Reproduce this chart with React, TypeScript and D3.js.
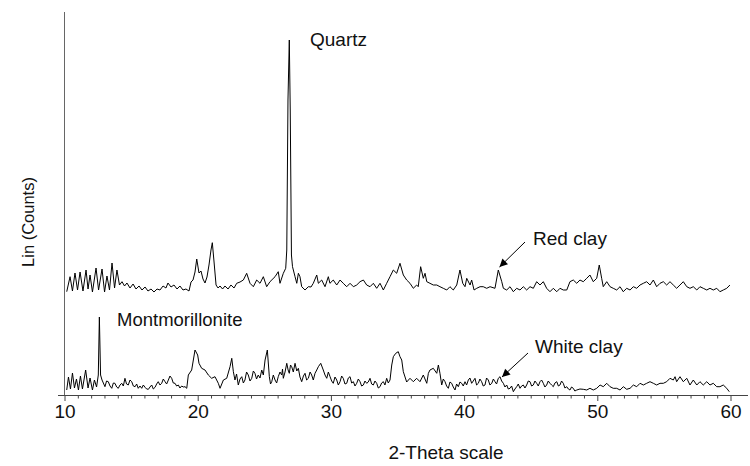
import React from "react";
import * as d3 from "d3";

// 2-theta (deg) / intensity pairs
const redClay: [number, number][] = [
  [10.13, 33], [10.38, 183], [10.56, 40], [10.75, 220], [10.94, 50], [11.13, 230], [11.35, 40],
  [11.58, 250], [11.73, 60], [11.88, 200], [12.06, 30], [12.33, 270], [12.52, 50], [12.78, 260],
  [12.97, 30], [13.15, 190], [13.34, 50], [13.53, 320], [13.72, 70], [13.9, 250], [14.09, 100],
  [14.28, 133], [14.47, 90], [14.65, 120], [14.88, 70], [15.11, 110], [15.33, 60], [15.56, 90],
  [15.78, 50], [16.01, 80], [16.23, 40], [16.46, 60], [16.68, 30], [16.91, 60], [17.13, 50],
  [17.36, 90], [17.58, 70], [17.73, 120], [17.96, 80], [18.18, 100], [18.41, 60], [18.63, 90],
  [18.86, 50], [19.08, 60], [19.31, 40], [19.46, 130], [19.61, 150], [19.76, 230], [19.89, 360],
  [20.06, 220], [20.21, 240], [20.36, 160], [20.51, 120], [20.66, 180], [20.81, 300], [20.96, 450],
  [21.06, 523], [21.19, 330], [21.34, 100], [21.49, 70], [21.64, 90], [21.83, 60], [22.01, 90],
  [22.24, 60], [22.46, 100], [22.69, 70], [22.89, 117], [23.14, 130], [23.39, 150], [23.64, 217],
  [23.89, 117], [24.14, 83], [24.39, 150], [24.64, 117], [24.89, 183], [25.14, 83], [25.39, 133],
  [25.77, 183], [26.01, 233], [26.14, 117], [26.39, 217], [26.57, 267], [26.65, 450], [26.74, 1950],
  [26.84, 2550], [26.91, 1850], [27.0, 400], [27.08, 283], [27.27, 183], [27.4, 117], [27.52, 217],
  [27.64, 183], [27.77, 83], [28.02, 50], [28.27, 83], [28.47, 80], [28.64, 117], [28.9, 200],
  [29.02, 117], [29.27, 150], [29.52, 83], [29.77, 183], [29.89, 117], [30.14, 150], [30.4, 100],
  [30.65, 150], [30.89, 117], [31.15, 83], [31.4, 117], [31.65, 83], [31.9, 100], [32.15, 133],
  [32.4, 150], [32.65, 100], [32.9, 83], [33.15, 117], [33.4, 67], [33.65, 117], [33.9, 50],
  [34.15, 117], [34.4, 183], [34.65, 250], [34.9, 217], [35.15, 317], [35.4, 200], [35.65, 150],
  [35.9, 117], [36.15, 67], [36.4, 100], [36.52, 83], [36.7, 283], [36.9, 167], [37.03, 217],
  [37.16, 133], [37.4, 117], [37.65, 100], [37.91, 100], [38.15, 83], [38.4, 67], [38.66, 50],
  [38.9, 83], [39.15, 50], [39.41, 100], [39.65, 250], [39.86, 117], [40.03, 83], [40.16, 167],
  [40.41, 100], [40.53, 150], [40.71, 50], [40.91, 67], [41.16, 83], [41.4, 83], [41.66, 67],
  [41.91, 83], [42.28, 67], [42.53, 250], [42.79, 133], [42.91, 67], [43.16, 50], [43.41, 83],
  [43.66, 33], [43.91, 67], [44.16, 50], [44.41, 83], [44.66, 50], [44.91, 83], [45.16, 67],
  [45.41, 133], [45.66, 100], [45.91, 133], [46.16, 67], [46.41, 33], [46.66, 67], [46.92, 33],
  [47.16, 67], [47.41, 50], [47.67, 50], [47.91, 133], [48.16, 150], [48.42, 117], [48.66, 150],
  [48.91, 133], [49.17, 167], [49.41, 200], [49.66, 133], [49.92, 167], [50.11, 300], [50.29, 167],
  [50.41, 83], [50.67, 133], [50.92, 83], [51.16, 67], [51.42, 50], [51.67, 83], [51.91, 33],
  [52.17, 67], [52.42, 50], [52.67, 83], [52.92, 67], [53.17, 100], [53.42, 117], [53.67, 133],
  [53.92, 100], [54.17, 150], [54.42, 83], [54.67, 117], [54.92, 133], [55.17, 100], [55.42, 133],
  [55.67, 100], [55.92, 67], [56.17, 100], [56.42, 133], [56.68, 83], [56.92, 67], [57.17, 83],
  [57.43, 50], [57.67, 83], [57.92, 67], [58.18, 50], [58.42, 67], [58.67, 50], [58.93, 67],
  [59.17, 33], [59.42, 50], [59.68, 67], [59.92, 100],
];

const whiteClay: [number, number][] = [
  [10.13, 50], [10.26, 180], [10.41, 60], [10.56, 220], [10.71, 70], [10.86, 160], [11.01, 50],
  [11.16, 190], [11.31, 60], [11.55, 250], [11.73, 70], [11.88, 170], [12.06, 50], [12.21, 150],
  [12.37, 80], [12.5, 200], [12.58, 780], [12.67, 200], [12.78, 150], [13.0, 83], [13.12, 140],
  [13.25, 133], [13.38, 90], [13.51, 67], [13.63, 120], [13.75, 117], [13.88, 80], [14.0, 67],
  [14.13, 100], [14.26, 117], [14.38, 90], [14.5, 167], [14.62, 110], [14.75, 100], [14.88, 150],
  [15.01, 133], [15.13, 90], [15.26, 83], [15.38, 110], [15.5, 67], [15.63, 90], [15.76, 67],
  [15.88, 100], [16.01, 77], [16.13, 60], [16.26, 57], [16.38, 80], [16.51, 100], [16.63, 60],
  [16.76, 77], [16.88, 110], [17.0, 133], [17.13, 100], [17.26, 117], [17.38, 160], [17.51, 133],
  [17.63, 110], [17.76, 150], [17.88, 190], [18.01, 167], [18.13, 120], [18.26, 117], [18.38, 90],
  [18.51, 100], [18.63, 70], [18.76, 90], [18.88, 80], [19.01, 83], [19.14, 67], [19.26, 200],
  [19.51, 250], [19.76, 450], [19.96, 400], [20.06, 317], [20.26, 267], [20.51, 250], [20.76, 200],
  [21.01, 167], [21.26, 183], [21.51, 117], [21.64, 67], [21.89, 150], [22.14, 167], [22.39, 283],
  [22.52, 367], [22.64, 233], [22.76, 150], [22.88, 210], [23.01, 100], [23.14, 160], [23.27, 183],
  [23.39, 120], [23.51, 150], [23.63, 230], [23.76, 200], [23.89, 140], [24.02, 167], [24.14, 240],
  [24.26, 217], [24.38, 160], [24.51, 200], [24.64, 170], [24.77, 250], [24.89, 200], [25.02, 350],
  [25.19, 450], [25.34, 183], [25.43, 110], [25.52, 133], [25.64, 200], [25.77, 150], [25.89, 120],
  [26.01, 183], [26.14, 230], [26.27, 200], [26.33, 260], [26.39, 167], [26.52, 230], [26.65, 317],
  [26.75, 250], [26.84, 217], [26.93, 300], [27.02, 283], [27.14, 230], [27.27, 317], [27.4, 240],
  [27.52, 267], [27.64, 180], [27.77, 133], [27.9, 190], [28.02, 217], [28.14, 150], [28.27, 167],
  [28.4, 230], [28.52, 200], [28.64, 150], [28.77, 217], [28.9, 250], [29.02, 283], [29.2, 317],
  [29.39, 250], [29.52, 200], [29.65, 167], [29.77, 230], [29.9, 183], [30.02, 140], [30.14, 117],
  [30.27, 180], [30.4, 150], [30.52, 100], [30.65, 133], [30.77, 190], [30.89, 167], [31.02, 110],
  [31.15, 117], [31.27, 170], [31.4, 183], [31.52, 120], [31.65, 133], [31.77, 90], [31.9, 117],
  [32.02, 160], [32.15, 133], [32.27, 90], [32.4, 100], [32.52, 140], [32.65, 117], [32.77, 130],
  [32.9, 167], [33.02, 110], [33.15, 100], [33.27, 140], [33.4, 117], [33.52, 70], [33.65, 83],
  [33.77, 120], [33.9, 133], [34.02, 100], [34.15, 167], [34.27, 120], [34.4, 150], [34.53, 300],
  [34.65, 383], [34.83, 417], [35.02, 433], [35.15, 383], [35.28, 350], [35.4, 233], [35.65, 130],
  [35.9, 167], [36.15, 133], [36.4, 167], [36.65, 133], [36.9, 200], [37.16, 117], [37.28, 217],
  [37.4, 250], [37.65, 267], [37.91, 217], [38.03, 300], [38.15, 217], [38.28, 100], [38.4, 160],
  [38.53, 133], [38.65, 90], [38.78, 67], [38.9, 130], [39.03, 117], [39.15, 80], [39.28, 50],
  [39.4, 110], [39.53, 83], [39.65, 130], [39.78, 117], [39.9, 90], [40.03, 133], [40.15, 100],
  [40.28, 150], [40.4, 170], [40.53, 117], [40.65, 140], [40.78, 167], [40.9, 100], [41.03, 117],
  [41.15, 160], [41.28, 133], [41.4, 90], [41.53, 100], [41.65, 170], [41.78, 150], [41.9, 100],
  [42.04, 117], [42.16, 160], [42.28, 133], [42.4, 110], [42.53, 167], [42.66, 183], [42.78, 140],
  [42.91, 117], [43.03, 80], [43.16, 100], [43.28, 60], [43.41, 67], [43.53, 90], [43.66, 33],
  [43.78, 60], [43.91, 83], [44.03, 110], [44.16, 67], [44.28, 90], [44.41, 100], [44.53, 70],
  [44.66, 100], [44.78, 140], [44.91, 133], [45.03, 90], [45.16, 100], [45.28, 140], [45.41, 117],
  [45.53, 90], [45.66, 133], [45.78, 150], [45.91, 117], [46.03, 80], [46.16, 100], [46.28, 140],
  [46.41, 117], [46.53, 100], [46.66, 83], [46.78, 120], [46.92, 133], [47.04, 90], [47.16, 100],
  [47.28, 140], [47.41, 117], [47.53, 70], [47.67, 83], [47.79, 60], [47.91, 50], [48.03, 80],
  [48.16, 67], [48.28, 40], [48.42, 50], [48.66, 60], [48.91, 57], [49.17, 50], [49.41, 67],
  [49.66, 50], [49.92, 67], [50.17, 100], [50.41, 83], [50.67, 117], [50.92, 83], [51.16, 67],
  [51.42, 67], [51.67, 50], [51.92, 83], [52.17, 57], [52.42, 67], [52.67, 100], [52.92, 83],
  [53.17, 117], [53.42, 100], [53.67, 117], [53.92, 133], [54.17, 117], [54.42, 100], [54.67, 117],
  [54.92, 117], [55.17, 133], [55.42, 167], [55.67, 150], [55.8, 183], [55.92, 133], [56.17, 183],
  [56.42, 133], [56.68, 167], [56.92, 100], [57.17, 150], [57.43, 100], [57.67, 133], [57.92, 100],
  [58.18, 133], [58.42, 100], [58.67, 117], [58.93, 83], [59.17, 83], [59.42, 100], [59.68, 67],
  [59.87, 33],
];

const RED_OFFSET = 1000; // vertical offset of the red clay scan
const xTicks = [10, 20, 30, 40, 50, 60];

const FONT = "'Liberation Sans', Arial, sans-serif";

export default function App() {
  const W = 750;
  const H = 466;

  const x = d3.scaleLinear().domain([10, 60]).range([65, 731]);
  const y = d3.scaleLinear().domain([0, 3830]).range([395, 12]);

  const line = d3
    .line<[number, number]>()
    .x((d) => x(d[0]))
    .y((d) => y(d[1]));
  const redLine = d3
    .line<[number, number]>()
    .x((d) => x(d[0]))
    .y((d) => y(d[1] + RED_OFFSET));

  const minor = d3.range(10, 61, 1);

  return (
    <svg
      width={W}
      height={H}
      style={{ position: "absolute", left: 0, top: 0, background: "#fff" }}
      fontFamily={FONT}
    >
      <defs>
        <marker id="arr" viewBox="0 0 10 10" refX="10" refY="5" markerWidth="9" markerHeight="8" markerUnits="userSpaceOnUse" orient="auto">
          <path d="M0,0 L10,5 L0,10 z" fill="#000" />
        </marker>
      </defs>

      {/* axes */}
      <line x1={64.5} x2={64.5} y1={12} y2={395} stroke="#666" strokeWidth={1} />
      <line x1={58} x2={748} y1={395.5} y2={395.5} stroke="#444" strokeWidth={1} />
      {minor.map((t) => (
        <line key={"m" + t} x1={x(t)} x2={x(t)} y1={395.5} y2={t % 10 === 0 ? 401 : 398.5} stroke="#444" strokeWidth={1} />
      ))}
      {xTicks.map((t) => (
        <text key={t} x={x(t)} y={418} fontSize={19} textAnchor="middle" fill="#111">
          {t}
        </text>
      ))}
      <text x={446} y={459} fontSize={19} textAnchor="middle" fill="#111">
        2-Theta scale
      </text>
      <text transform="translate(34,222) rotate(-90)" fontSize={16.5} textAnchor="middle" fill="#111">
        Lin (Counts)
      </text>

      {/* scans */}
      <path d={line(whiteClay) || ""} fill="none" stroke="#000" strokeWidth={1} />
      <path d={redLine(redClay) || ""} fill="none" stroke="#000" strokeWidth={1} />

      {/* annotations */}
      <text x={310} y={46} fontSize={19} fill="#111">Quartz</text>
      <text x={117} y={326} fontSize={18.5} fill="#111">Montmorillonite</text>
      <text x={533} y={245} fontSize={19} fill="#111">Red clay</text>
      <line x1={525} y1={242} x2={499.5} y2={267} stroke="#000" strokeWidth={1} markerEnd="url(#arr)" />
      <text x={535} y={353} fontSize={19} fill="#111">White clay</text>
      <line x1={528} y1={353} x2={502} y2={377} stroke="#000" strokeWidth={1} markerEnd="url(#arr)" />
    </svg>
  );
}
